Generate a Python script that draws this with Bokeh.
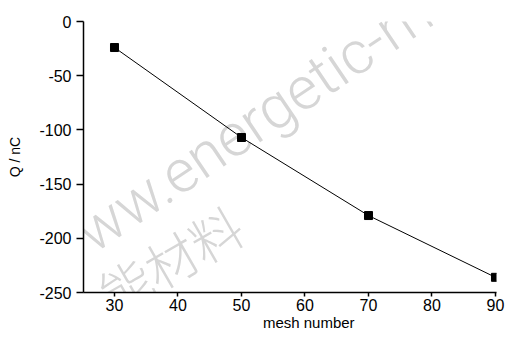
from bokeh.plotting import figure
from bokeh.models import Label, Range1d, FixedTicker
from bokeh.embed import file_html
from bokeh.resources import INLINE

mesh = [30, 50, 70, 90]
charge = [-24, -107, -179, -236]
x_ticks = [30, 40, 50, 60, 70, 80, 90]
y_ticks = [0, -50, -100, -150, -200, -250]
y_tick_labels = ["0", "-50", "-100", "-150", "-200", "-250"]

p = figure(width=508, height=338, output_backend="svg", toolbar_location=None,
           x_range=Range1d(25.12, 90.16), y_range=Range1d(-250, 0),
           min_border_left=83, min_border_right=12, min_border_top=21, min_border_bottom=46)
p.outline_line_color = None
p.grid.grid_line_color = None
p.background_fill_color = "white"

font = "Liberation Sans"
wm_font = "Roboto Light, Lato Light, Open Sans Light, Liberation Sans"
# watermark
p.add_layout(Label(x=18.98, y=-222.6, text="www.energetic-materials.org.cn", angle=34, angle_units="deg",
                   text_align="left", text_baseline="alphabetic", level="underlay",
                   text_font=wm_font, text_font_size="60px", text_color="#d6d6d6"))
p.add_layout(Label(x=35.2, y=-230.9, text="含能材料", angle=30, angle_units="deg",
                   text_align="center", text_baseline="middle", level="underlay",
                   text_font="Noto Sans CJK SC Light, Noto Sans CJK SC", text_font_size="52px",
                   text_color="#d6d6d6"))

p.line(mesh, charge, line_color="black", line_width=1)
p.scatter(mesh, charge, marker="square", size=8, color="black")

for ax in (p.xaxis, p.yaxis):
    ax.axis_line_color = "black"
    ax.axis_line_width = 1.5
    ax.major_tick_line_color = "black"
    ax.major_tick_line_width = 1.5
    ax.major_tick_in = 0
    ax.minor_tick_line_color = None
    ax.major_label_text_font = font
    ax.major_label_text_font_size = "16px"
    ax.major_label_text_color = "black"
    ax.axis_label_text_font = font
    ax.axis_label_text_font_style = "normal"
    ax.axis_label_text_color = "black"

p.xaxis.ticker = FixedTicker(ticks=x_ticks)
p.yaxis.ticker = FixedTicker(ticks=y_ticks)
p.yaxis.major_label_overrides = {t: s for t, s in zip(y_ticks, y_tick_labels)}
p.xaxis.major_tick_out = 4
p.yaxis.major_tick_out = 7
p.xaxis.axis_label = "\u00a0" * 9 + "mesh number"
p.yaxis.axis_label = "Q / nC"
p.xaxis.axis_label_text_font_size = "15px"
p.yaxis.axis_label_text_font_size = "14px"
p.xaxis.major_label_standoff = 2
p.yaxis.major_label_standoff = 5
p.xaxis.axis_label_standoff = 0
p.yaxis.axis_label_standoff = 13

open("out.html", "w").write(file_html(p, INLINE))
